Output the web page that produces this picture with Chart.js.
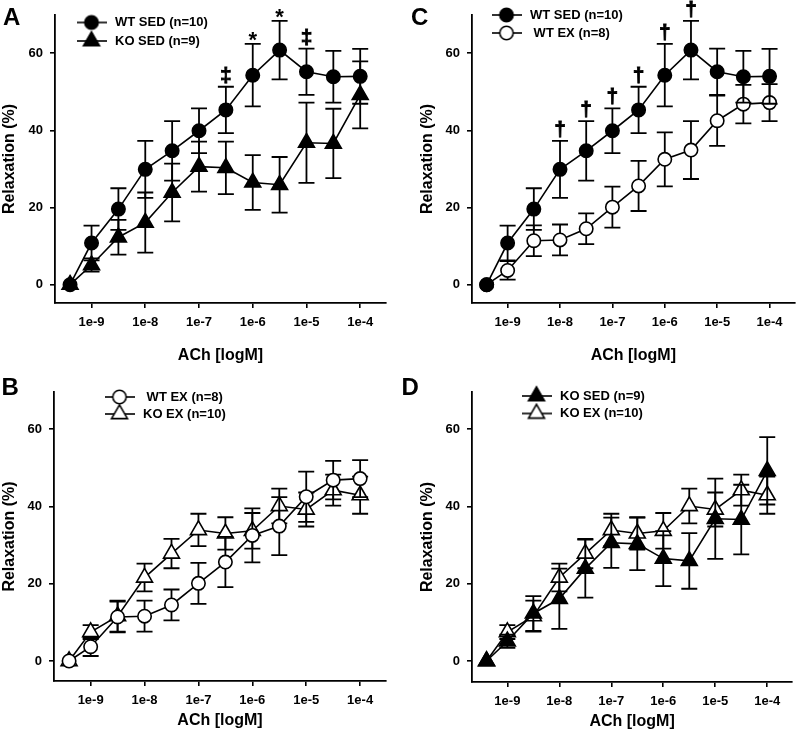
<!DOCTYPE html>
<html><head><meta charset="utf-8">
<script src="https://cdn.jsdelivr.net/npm/chart.js@4.4.1/dist/chart.umd.min.js"></script>
<style>
html,body{margin:0;padding:0;background:#fff;width:803px;height:739px;overflow:hidden;position:relative}
canvas{position:absolute}
</style></head><body>
<canvas id="cA" width="401" height="370" style="left:0;top:0"></canvas>
<canvas id="cC" width="402" height="370" style="left:401px;top:0"></canvas>
<canvas id="cB" width="401" height="369" style="left:0;top:370px"></canvas>
<canvas id="cD" width="402" height="369" style="left:401px;top:370px"></canvas>
<script>
// ---- data ----
const logConc = [-9.4, -9, -8.5, -8, -7.5, -7, -6.5, -6, -5.5, -5, -4.5, -4];
const xTickValues = [-9, -8, -7, -6, -5, -4];
const xTickLabels = ['1e-9', '1e-8', '1e-7', '1e-6', '1e-5', '1e-4'];
const yTickValues = [0, 20, 40, 60];

const wtSedMean = [0, 10.8, 19.6, 29.9, 34.7, 39.9, 45.3, 54.3, 60.8, 55.2, 53.9, 54.0];
const wtSedSem  = [0, 4.5, 5.4, 7.4, 7.7, 5.8, 6.0, 8.1, 7.6, 6.0, 6.7, 7.1];
const koSedMean = [0, 5.1, 12.3, 16.1, 23.9, 30.6, 30.3, 26.5, 25.9, 36.8, 36.6, 49.2];
const koSedSem  = [0, 1.7, 4.5, 7.8, 7.5, 6.5, 6.8, 7.1, 7.2, 10.4, 9.0, 8.7];
const wtExMean  = [0, 3.7, 11.4, 11.6, 14.5, 20.1, 25.6, 32.5, 34.9, 42.5, 46.8, 47.2];
const wtExSem   = [0, 2.4, 4.0, 4.0, 4.0, 5.3, 6.5, 7.0, 7.5, 6.5, 5.0, 4.8];
const koExMean  = [0, 7.5, 11.6, 21.6, 27.8, 33.9, 33.0, 33.7, 40.1, 39.2, 44.2, 42.9];
const koExSem   = [0, 1.8, 4.0, 3.6, 3.8, 4.2, 4.2, 4.6, 4.5, 4.4, 4.0, 4.8];

const sigA = ['', '', '', '', '', '', '\u2021', '*', '*', '\u2021', '', ''];
const sigC = ['', '', '', '\u2020', '\u2020', '\u2020', '\u2020', '\u2020', '\u2020', '', '', ''];

// ---- styling ----
const FONT = '"Liberation Sans", Arial, Helvetica, sans-serif';
Chart.defaults.font.family = FONT;
Chart.defaults.font.weight = 'bold';
Chart.defaults.color = '#000';

const SERIES = {
  wtSed: {label: 'WT SED (n=10)', mean: wtSedMean, sem: wtSedSem, style: 'circle', fill: '#000', r: 6.7},
  koSed: {label: 'KO SED (n=9)', mean: koSedMean, sem: koSedSem, style: 'triangle', fill: '#000', r: 9.2},
  wtEx:  {label: ' WT EX (n=8)', mean: wtExMean, sem: wtExSem, style: 'circle', fill: '#fff', r: 6.7},
  koEx:  {label: 'KO EX (n=10)', mean: koExMean, sem: koExSem, style: 'triangle', fill: '#fff', r: 9.2}
};

function markerPath(g, style, r, cx, cy) {
  g.beginPath();
  if (style === 'circle') {
    g.arc(cx, cy, r, 0, Math.PI * 2);
  } else {
    let a = 0;
    g.moveTo(cx + Math.sin(a) * r, cy - Math.cos(a) * r);
    a += 2 * Math.PI / 3;
    g.lineTo(cx + Math.sin(a) * r, cy - Math.cos(a) * r);
    a += 2 * Math.PI / 3;
    g.lineTo(cx + Math.sin(a) * r, cy - Math.cos(a) * r);
    g.closePath();
  }
}
function symbolCanvas(s) {
  const c = document.createElement('canvas');
  c.width = 30; c.height = 22;
  const g = c.getContext('2d');
  g.strokeStyle = '#000'; g.lineWidth = 1.6;
  g.beginPath(); g.moveTo(0, 11); g.lineTo(30, 11); g.stroke();
  markerPath(g, s.style, s.r, 15, 11);
  g.fillStyle = s.fill; g.fill(); g.stroke();
  return c;
}

const errorBars = {
  id: 'errorBars',
  beforeDatasetDraw(chart, args) {
    const ds = chart.data.datasets[args.index];
    if (!ds.sem) return;
    const ys = chart.scales.y, ctx = chart.ctx;
    ctx.save();
    ctx.strokeStyle = '#000'; ctx.lineWidth = 1.8;
    args.meta.data.forEach((pt, i) => {
      const e = ds.sem[i];
      if (!e) return;
      const v = ds.data[i].y;
      const yt = ys.getPixelForValue(v + e), yb = ys.getPixelForValue(v - e);
      ctx.beginPath();
      ctx.moveTo(pt.x, yt); ctx.lineTo(pt.x, yb);
      ctx.moveTo(pt.x - 8, yt); ctx.lineTo(pt.x + 8, yt);
      ctx.moveTo(pt.x - 8, yb); ctx.lineTo(pt.x + 8, yb);
      ctx.stroke();
    });
    ctx.restore();
  }
};

const legendPlace = {
  id: 'legendPlace',
  afterLayout(chart, args, opts) {
    const L = chart.legend;
    if (!L || opts.cx == null) return;
    const lab = L.options.labels;
    const left = opts.cx - lab.pointStyleWidth / 2 - lab.padding;
    const top = opts.cy - 13 / 2 - lab.padding;
    const w = 200, h = 60;
    L.left = left; L.top = top; L.right = left + w; L.bottom = top + h;
    L.width = w; L.height = h;
  }
};

const annotations = {
  id: 'annotations',
  afterDraw(chart, args, opts) {
    const ctx = chart.ctx;
    ctx.save();
    ctx.fillStyle = '#000';
    if (opts.letter) {
      ctx.font = 'bold 24px ' + FONT;
      ctx.textAlign = 'left'; ctx.textBaseline = 'alphabetic';
      ctx.fillText(opts.letter, opts.letterX, opts.letterY);
    }
    if (opts.marks) {
      const ds = chart.data.datasets[0];
      const meta = chart.getDatasetMeta(0);
      ctx.textAlign = 'center'; ctx.textBaseline = 'alphabetic';
      opts.marks.forEach((m, i) => {
        if (!m) return;
        const top = chart.scales.y.getPixelForValue(ds.data[i].y + ds.sem[i]);
        if (m === '*') {
          ctx.font = 'bold 22px ' + FONT;
          ctx.fillText(m, meta.data[i].x, top + 3);
        } else {
          ctx.font = 'bold 21px ' + FONT;
          ctx.lineWidth = 0.8; ctx.strokeStyle = '#000';
          ctx.fillText(m, meta.data[i].x, top - 5);
          ctx.strokeText(m, meta.data[i].x, top - 5);
        }
      });
    }
    ctx.restore();
  }
};

function makeDataset(s) {
  return {
    label: s.label,
    data: logConc.map((x, i) => ({x: x, y: s.mean[i]})),
    sem: s.sem,
    borderColor: '#000', borderWidth: 1.6, tension: 0, fill: false,
    pointStyle: s.style, pointRadius: s.r, pointHoverRadius: s.r,
    pointBackgroundColor: s.fill, pointBorderColor: '#000', pointBorderWidth: 1.6,
    clip: false, symbol: symbolCanvas(s)
  };
}

function makePanel(id, cfg) {
  const axisCommon = {
    border: {display: true, color: '#000', width: 1.8},
    grid: {display: true, drawOnChartArea: false, drawTicks: true, tickLength: 5, color: '#000', lineWidth: 1.6}
  };
  new Chart(document.getElementById(id), {
    type: 'line',
    data: {datasets: cfg.series.map(makeDataset)},
    options: {
      responsive: false, animation: false, events: [],
      layout: {padding: cfg.pad},
      scales: {
        x: Object.assign({}, axisCommon, {
          type: 'linear', min: -9.68, max: -3.52,
          afterBuildTicks: (sc) => { sc.ticks = xTickValues.map(v => ({value: v})); },
          afterFit: (sc) => { sc.height = cfg.xH; },
          ticks: {padding: 7, autoSkip: false, maxRotation: 0, font: {size: 13, weight: 'bold'}, color: '#000',
                  callback: (v) => xTickLabels[xTickValues.indexOf(v)]},
          title: {display: true, text: 'ACh [logM]', color: '#000', font: {size: 16, weight: 'bold'}, padding: 0}
        }),
        y: Object.assign({}, axisCommon, {
          type: 'linear', min: cfg.ymin, max: cfg.ymax,
          afterBuildTicks: (sc) => { sc.ticks = yTickValues.map(v => ({value: v})); },
          afterFit: (sc) => { sc.width = cfg.yW; },
          ticks: {padding: 7, font: {size: 13, weight: 'bold'}, color: '#000'},
          title: {display: true, text: 'Relaxation (%)', color: '#000', font: {size: 16, weight: 'bold'}, padding: 0}
        })
      },
      plugins: {
        tooltip: {enabled: false},
        legend: {
          display: true, position: 'chartArea', align: 'start',
          labels: {
            usePointStyle: true, pointStyleWidth: 34, padding: cfg.legPad, color: '#000',
            font: {size: 13, weight: 'bold'},
            generateLabels: (chart) => chart.data.datasets.map((d, i) => ({
              text: d.label, pointStyle: d.symbol, datasetIndex: i, fontColor: '#000',
              fillStyle: '#000', strokeStyle: '#000', lineWidth: 0, hidden: false
            }))
          }
        },
        legendPlace: {cx: cfg.legX, cy: cfg.legY},
        annotations: {letter: cfg.letter, letterX: cfg.letterX, letterY: 25, marks: cfg.marks}
      }
    },
    plugins: [errorBars, legendPlace, annotations]
  });
}

makePanel('cA', {series: [SERIES.wtSed, SERIES.koSed], pad: {left: 0, top: 15, right: 15, bottom: 5},
  yW: 55, xH: 62, ymin: -4.74, ymax: 69.9, legX: 91.5, legY: 22.5, legPad: 5.5,
  letter: 'A', letterX: 3, marks: sigA});
makePanel('cC', {series: [SERIES.wtSed, SERIES.wtEx], pad: {left: 17, top: 15, right: 0, bottom: 5},
  yW: 54, xH: 62, ymin: -4.74, ymax: 69.9, legX: 105.5, legY: 15, legPad: 5,
  letter: 'C', letterX: 10, marks: sigC});
makePanel('cB', {series: [SERIES.wtEx, SERIES.koEx], pad: {left: 0, top: 22, right: 15, bottom: 9},
  yW: 54, xH: 49, ymin: -5.17, ymax: 69.6, legX: 119.5, legY: 27, legPad: 4,
  letter: 'B', letterX: 1.5, marks: null});
makePanel('cD', {series: [SERIES.koSed, SERIES.koEx], pad: {left: 17, top: 22, right: 0, bottom: 8},
  yW: 54, xH: 49, ymin: -5.43, ymax: 69.6, legX: 135.5, legY: 26, legPad: 4.5,
  letter: 'D', letterX: 0.5, marks: null});
</script>
</body></html>
